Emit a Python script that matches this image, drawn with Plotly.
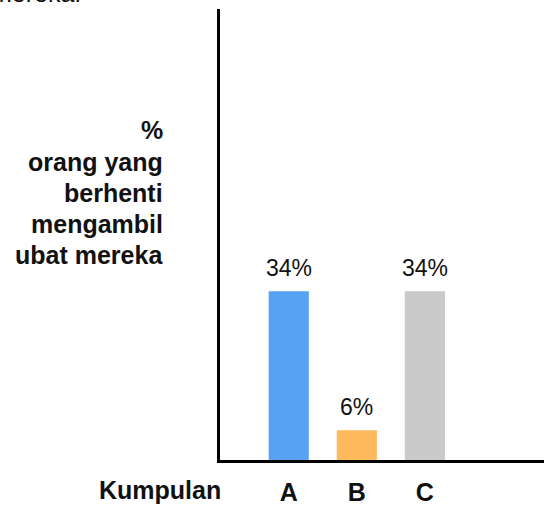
import plotly.graph_objects as go

# Data
groups = ["A", "B", "C"]
values = [34, 6, 34]
labels = ["34%", "6%", "34%"]
colors = ["#57a2f2", "#fdb95b", "#c9c9c9"]

y_title_lines = ["%", "orang yang", "berhenti", "mengambil", "ubat mereka"]
x_title = "Kumpulan"

FONT = "Liberation Sans, Arial, sans-serif"
W, H = 544, 506
ml, mr, mt, mb = 220, 0, 9, 44

fig = go.Figure()
fig.add_trace(go.Bar(
    x=groups,
    y=values,
    marker=dict(color=colors, line=dict(width=0)),
    width=0.59,
    hoverinfo="skip",
))

# Value labels above each bar
for g, v, t in zip(groups, values, labels):
    fig.add_annotation(
        x=g, y=v, text=t, showarrow=False,
        xanchor="center", yanchor="bottom", yshift=8,
        font=dict(family=FONT, size=23, color="#111111"),
    )

fig.update_layout(
    width=W, height=H,
    margin=dict(l=ml, r=mr, t=mt, b=mb),
    plot_bgcolor="white",
    paper_bgcolor="white",
    showlegend=False,
    font=dict(family=FONT, color="#111111"),
    xaxis=dict(
        type="category",
        range=[-1.01, 3.75],
        showline=True, linecolor="black", linewidth=3,
        showgrid=False, zeroline=False,
        ticks="", ticklen=0,
        ticklabelstandoff=8,
        tickfont=dict(family=FONT, size=25, color="#111111", weight="bold"),
    ),
    yaxis=dict(
        range=[0, 90.9],
        showline=True, linecolor="black", linewidth=3,
        showgrid=False, zeroline=False,
        showticklabels=False, ticks="",
    ),
)

# Y-axis title, right aligned, one annotation per line
line_step = 31.3
first_line_center = 131
for i, line in enumerate(y_title_lines):
    yc = first_line_center + i * line_step
    fig.add_annotation(
        xref="paper", yref="paper",
        x=0, y=(H - mb - yc) / (H - mt - mb),
        xshift=-55,
        xanchor="right", yanchor="middle",
        text=line, showarrow=False,
        font=dict(family=FONT, size=25, color="#111111", weight="bold"),
    )

# X-axis title
fig.add_annotation(
    xref="paper", yref="paper",
    x=0, y=0,
    xshift=-60, yshift=-30,
    xanchor="center", yanchor="middle",
    text=x_title, showarrow=False,
    font=dict(family=FONT, size=25, color="#111111", weight="bold"),
)

# Trailing line of text from above the chart
fig.add_annotation(
    xref="paper", yref="paper",
    x=0, y=1,
    xshift=-137, yshift=0,
    xanchor="right", yanchor="bottom",
    text="mereka.", showarrow=False,
    font=dict(family=FONT, size=25, color="#111111"),
)

fig.write_html("out.html")
